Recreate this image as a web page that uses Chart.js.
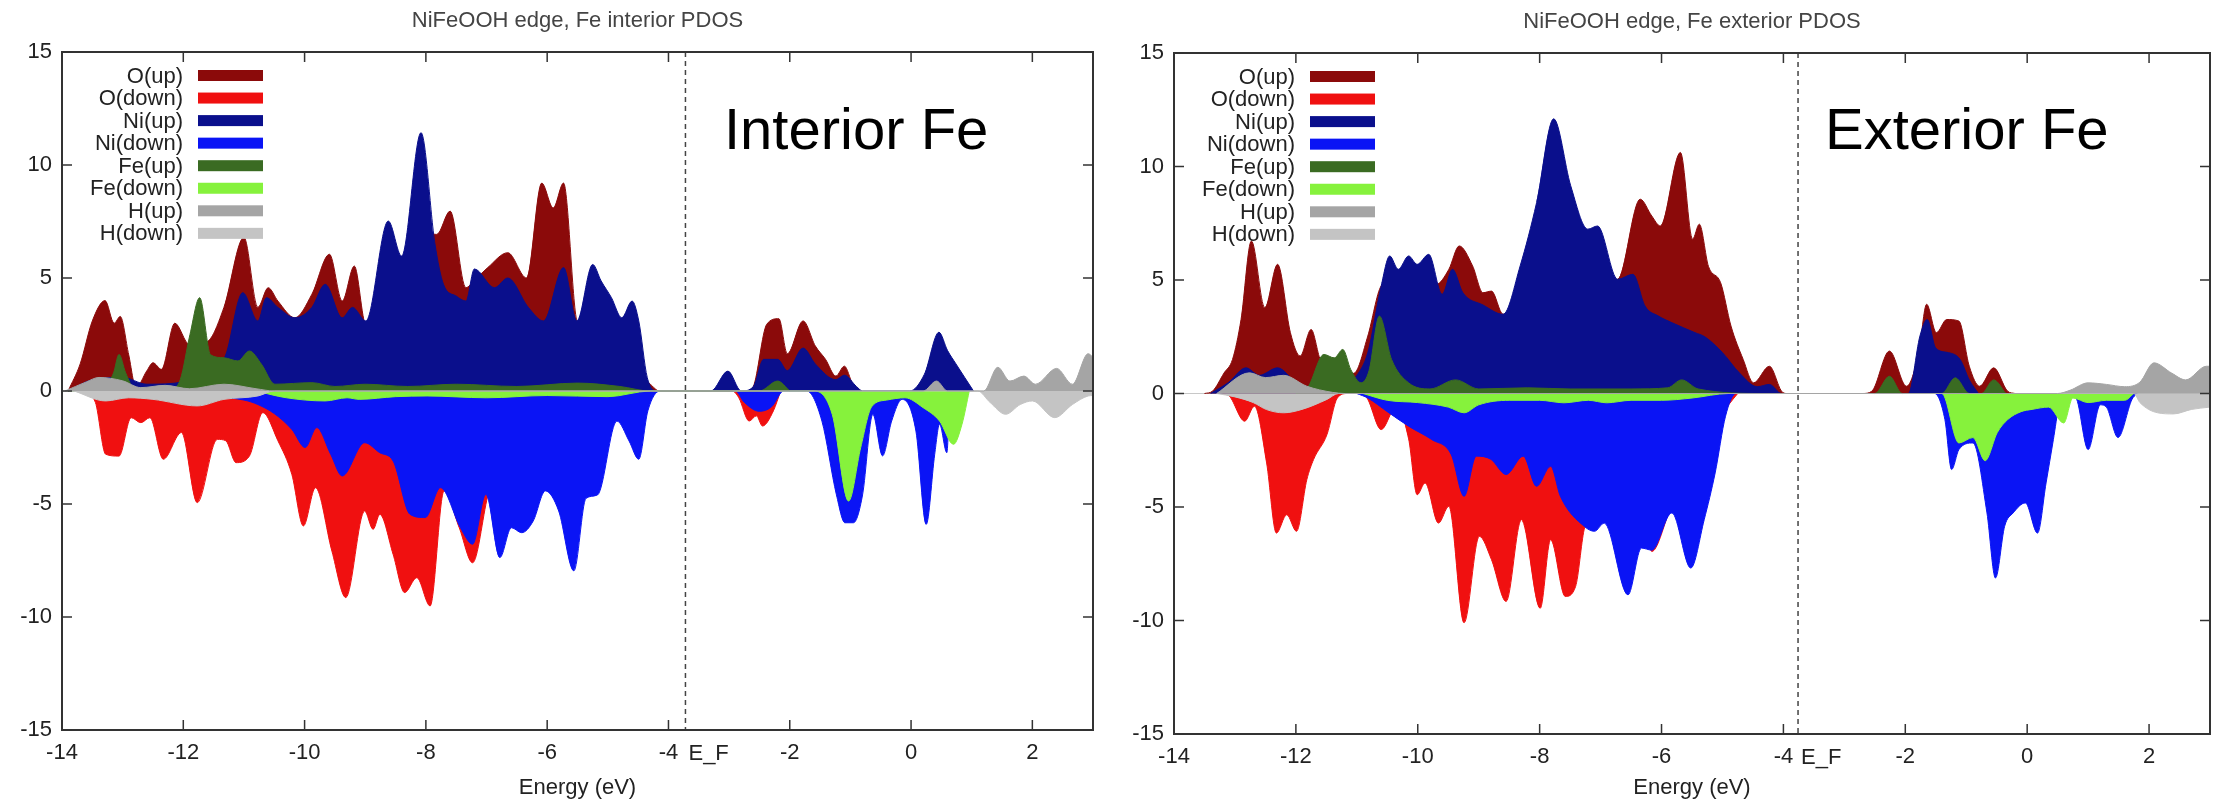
<!DOCTYPE html>
<html>
<head>
<meta charset="utf-8">
<script src="https://cdn.jsdelivr.net/npm/chart.js@4.4.0/dist/chart.umd.min.js"></script>
<style>
  html, body { margin: 0; padding: 0; background: #fff; }
  #wrap { display: flex; width: 2216px; height: 803px; }
  canvas { display: block; }
</style>
</head>
<body>
<div id="wrap">
  <canvas id="cInt" width="1108" height="803"></canvas>
  <canvas id="cExt" width="1108" height="803"></canvas>
</div>
<script>
// axis ticks
const xTicks = [-14, -12, -10, -8, -6, -4, -2, 0, 2];
const yTicks = [-15, -10, -5, 0, 5, 10, 15];

const seriesNames = ['O(up)', 'O(down)', 'Ni(up)', 'Ni(down)', 'Fe(up)', 'Fe(down)', 'H(up)', 'H(down)'];
const seriesColors = ['#8b0a0a', '#f01010', '#0a0f8c', '#0a14f5', '#3a6b22', '#86f23c', '#a5a5a5', '#c4c4c4'];
const drawOrder = [4, 4, 3, 3, 2, 2, 1, 1];

// Fermi level (dashed line), eV
const efInterior = -3.72;
const efExterior = -3.76;

// ---- interior Fe panel, [energy, PDOS] ----
const intOUp = [[-13.9,0],[-13.7,1.2],[-13.5,3.1],[-13.29,4.0],[-13.14,3.0],[-13.04,3.3],[-12.9,1.6],[-12.78,0.15],[-12.6,0.9],[-12.5,1.25],[-12.36,0.96],[-12.14,3.0],[-11.9,2.06],[-11.6,2.2],[-11.33,3.7],[-11.0,6.8],[-10.77,3.7],[-10.6,4.57],[-10.44,3.98],[-10.16,3.24],[-9.88,4.28],[-9.59,6.05],[-9.38,3.98],[-9.18,5.53],[-8.99,2.95],[-8.8,3.0],[-8.62,6.5],[-8.4,5.5],[-8.08,8.0],[-7.9,7.0],[-7.82,6.93],[-7.6,7.96],[-7.34,4.57],[-7.2,4.9],[-6.98,5.46],[-6.65,6.12],[-6.34,5.0],[-6.09,9.2],[-5.9,8.1],[-5.73,9.2],[-5.51,3.1],[-5.3,2.5],[-5.0,2.0],[-4.6,1.0],[-4.3,0.3],[-4.15,0],
  [-2.7,0],[-2.6,0.2],[-2.38,2.95],[-2.18,3.2],[-2.04,1.65],[-1.78,3.1],[-1.58,2.0],[-1.41,1.4],[-1.24,0.66],[-1.1,1.1],[-0.96,0.3],[-0.82,0]];
const intODown = [[-13.65,0],[-13.45,-0.5],[-13.28,-2.8],[-13.06,-2.88],[-12.86,-1.18],[-12.7,-1.4],[-12.55,-1.18],[-12.33,-3.02],[-12.03,-1.84],[-11.77,-4.94],[-11.44,-2.14],[-11.3,-2.2],[-11.13,-3.17],[-10.91,-2.88],[-10.69,-0.96],[-10.44,-2.2],[-10.21,-3.69],[-10.02,-5.97],[-9.82,-4.28],[-9.55,-7.08],[-9.32,-9.14],[-9.01,-5.31],[-8.87,-6.12],[-8.76,-5.46],[-8.54,-7.23],[-8.35,-8.92],[-8.15,-8.26],[-7.93,-9.51],[-7.7,-4.42],[-7.45,-6.05],[-7.23,-7.6],[-6.98,-4.65],[-6.8,-3.0],[-6.5,-2.5],[-6.0,-2.0],[-5.5,-1.5],[-5.0,-1.0],[-4.4,-0.3],[-4.2,0],
  [-2.95,0],[-2.84,-0.3],[-2.67,-1.33],[-2.55,-1.1],[-2.45,-1.55],[-2.27,-0.88],[-2.15,0]];
const intNiUp = [[-13.9,0],[-13.5,0.5],[-13.0,0.6],[-12.6,0.3],[-12.0,0.4],[-11.5,0.8],[-11.3,1.6],[-11.02,4.35],[-10.77,3.1],[-10.63,4.13],[-10.44,3.7],[-10.16,3.24],[-9.88,3.7],[-9.66,4.72],[-9.38,3.24],[-9.21,3.7],[-8.99,3.1],[-8.62,7.52],[-8.4,5.97],[-8.08,11.43],[-7.85,6.5],[-7.71,4.72],[-7.5,4.2],[-7.34,3.98],[-7.2,5.4],[-6.87,4.57],[-6.65,5.0],[-6.31,3.7],[-6.06,3.1],[-5.73,5.46],[-5.51,3.1],[-5.25,5.6],[-5.11,4.87],[-4.94,4.13],[-4.77,3.24],[-4.6,3.98],[-4.49,3.1],[-4.35,0.6],[-4.18,0],
  [-3.3,0],[-3.02,0.88],[-2.8,0],[-2.6,0.2],[-2.43,1.4],[-2.2,1.4],[-2.04,0.9],[-1.78,1.9],[-1.58,1.2],[-1.24,0.5],[-1.1,0.7],[-0.9,0.2],[-0.8,0],[-0.02,0],[0.22,0.74],[0.46,2.6],[0.6,1.8],[0.74,1.2],[1.03,0]];
const intNiDown = [[-13.6,0],[-12.0,-0.2],[-11.0,-0.4],[-10.77,-0.6],[-10.5,-1.0],[-10.21,-1.7],[-9.99,-2.5],[-9.8,-1.62],[-9.57,-2.8],[-9.38,-3.76],[-9.01,-2.29],[-8.76,-2.73],[-8.54,-3.1],[-8.26,-5.46],[-8.01,-5.6],[-7.76,-4.28],[-7.43,-6.05],[-7.23,-6.78],[-7.01,-4.57],[-6.78,-7.37],[-6.59,-6.05],[-6.42,-6.27],[-6.23,-5.75],[-6.03,-4.42],[-5.81,-5.31],[-5.56,-7.96],[-5.36,-4.75],[-5.17,-4.6],[-4.85,-1.33],[-4.65,-2.21],[-4.49,-3.02],[-4.34,-0.88],[-4.14,0],
  [-2.9,0],[-2.75,-0.5],[-2.5,-0.9],[-2.3,-0.7],[-2.1,0],[-1.72,0],[-1.47,-1.33],[-1.23,-4.6],[-1.09,-5.83],[-0.95,-5.83],[-0.8,-4.6],[-0.63,-1.03],[-0.47,-2.87],[-0.32,-1.33],[-0.15,-0.37],[0.08,-1.77],[0.25,-5.9],[0.39,-2.8],[0.47,-1.47],[0.59,-2.73],[0.64,0]];
const intFeUp = [[-13.9,0],[-13.3,0.2],[-13.15,0.8],[-13.06,1.62],[-12.95,0.8],[-12.8,0.1],[-12.2,0.1],[-12.05,0.5],[-11.89,2.5],[-11.73,4.13],[-11.55,1.6],[-11.33,1.47],[-11.1,1.33],[-10.91,1.77],[-10.71,1.18],[-10.49,0.3],[-9.88,0.37],[-9.5,0.2],[-9.0,0.3],[-8.3,0.2],[-7.5,0.3],[-6.5,0.2],[-5.5,0.35],[-4.8,0.2],[-4.3,0],
  [-2.5,0],[-2.2,0.44],[-2.0,0]];
const intFeDown = [[-10.8,0],[-10.3,-0.3],[-9.66,-0.44],[-9.3,-0.3],[-9.1,-0.37],[-8.5,-0.25],[-7.98,-0.22],[-7.0,-0.3],[-6.0,-0.2],[-5.0,-0.25],[-4.3,0],
  [-1.59,0],[-1.3,-1.03],[-1.03,-4.87],[-0.83,-2.5],[-0.65,-0.7],[-0.4,-0.4],[-0.1,-0.3],[0.2,-0.74],[0.47,-1.33],[0.7,-2.36],[0.84,-1.47],[0.96,0]];
const intHUp = [[-13.95,0],[-13.6,0.4],[-13.39,0.6],[-13.0,0.45],[-12.7,0.15],[-12.3,0.25],[-11.9,0.1],[-11.33,0.3],[-10.8,0.1],[-10.5,0],
  [0.2,0],[0.42,0.44],[0.6,0],[1.2,0],[1.43,1.05],[1.63,0.44],[1.86,0.66],[2.05,0.3],[2.4,1.0],[2.66,0.3],[2.92,1.65],[3.0,1.5]];
const intHDown = [[-13.8,0],[-13.28,-0.44],[-12.9,-0.3],[-12.5,-0.37],[-11.77,-0.66],[-11.33,-0.37],[-10.77,-0.22],[-10.5,0],
  [1.1,0],[1.3,-0.5],[1.56,-1.03],[1.8,-0.6],[2.0,-0.44],[2.37,-1.18],[2.66,-0.6],[2.92,-0.22],[3.0,-0.2]];

// ---- exterior Fe panel ----
const extOUp = [[-13.5,0],[-13.37,0.1],[-13.18,0.9],[-13.04,1.5],[-12.9,3.26],[-12.73,6.72],[-12.51,3.78],[-12.3,5.69],[-12.09,2.68],[-11.93,1.65],[-11.75,2.82],[-11.6,1.5],[-11.3,0.8],[-11.04,0.9],[-10.82,2.53],[-10.6,4.74],[-10.4,5.0],[-10.0,5.0],[-9.7,4.8],[-9.49,5.47],[-9.32,6.5],[-9.1,5.62],[-8.93,4.44],[-8.79,4.51],[-8.6,3.49],[-8.3,4.5],[-8.0,6.0],[-7.5,6.0],[-7.0,5.0],[-6.72,5.03],[-6.35,8.56],[-6.16,7.82],[-6.02,7.38],[-5.69,10.62],[-5.49,6.8],[-5.38,7.46],[-5.23,5.6],[-5.03,4.88],[-4.86,2.97],[-4.66,1.5],[-4.49,0.47],[-4.23,1.2],[-4.03,0.1],[-3.95,0],
  [-2.7,0],[-2.55,0.1],[-2.26,1.87],[-1.98,0.32],[-1.78,1.79],[-1.65,3.93],[-1.49,2.68],[-1.32,3.26],[-1.12,3.19],[-0.95,1.2],[-0.78,0.32],[-0.55,1.13],[-0.32,0.1],[-0.2,0]];
const extODown = [[-13.2,0],[-13.09,-0.12],[-12.84,-1.22],[-12.68,-0.56],[-12.48,-3.06],[-12.32,-6.15],[-12.15,-5.34],[-11.99,-6.07],[-11.82,-3.79],[-11.71,-2.91],[-11.49,-1.81],[-11.32,-0.2],[-11.15,0],[-10.9,0],[-10.82,-0.26],[-10.6,-1.59],[-10.35,-0.56],[-10.15,-2.0],[-10.01,-4.46],[-9.88,-3.94],[-9.66,-5.71],[-9.49,-4.97],[-9.24,-10.1],[-8.99,-6.29],[-8.79,-7.32],[-8.55,-9.16],[-8.3,-5.56],[-7.99,-9.46],[-7.82,-6.44],[-7.58,-8.94],[-7.41,-8.5],[-7.27,-6.0],[-7.0,-4.5],[-6.6,-4.0],[-6.3,-5.0],[-6.16,-6.96],[-5.88,-5.26],[-5.7,-4.0],[-5.3,-2.0],[-4.9,-0.5],[-4.75,0]];
const extNiUp = [[-13.4,0],[-13.1,0.5],[-12.82,1.13],[-12.6,0.8],[-12.3,1.13],[-12.0,0.5],[-11.8,0.3],[-11.2,0.3],[-11.0,0.8],[-10.82,1.8],[-10.6,4.74],[-10.46,6.06],[-10.32,5.47],[-10.15,6.06],[-10.01,5.69],[-9.82,6.13],[-9.6,4.37],[-9.43,5.47],[-9.26,4.44],[-8.93,3.9],[-8.6,3.49],[-8.32,5.62],[-8.05,8.41],[-7.77,12.1],[-7.49,9.15],[-7.21,7.24],[-7.05,7.38],[-6.72,5.03],[-6.47,5.25],[-6.27,3.85],[-6.05,3.41],[-5.83,3.12],[-5.45,2.68],[-5.29,2.5],[-5.0,1.8],[-4.72,0.9],[-4.43,0.3],[-4.23,0.4],[-4.03,0],
  [-1.95,0],[-1.76,2.53],[-1.64,3.26],[-1.5,2.0],[-1.29,1.8],[-1.1,1.5],[-0.95,0.6],[-0.8,0]];
const extNiDown = [[-11.0,0],[-10.82,-0.2],[-10.5,-0.8],[-10.15,-1.44],[-9.77,-2.03],[-9.45,-2.7],[-9.24,-4.53],[-9.04,-2.76],[-8.8,-2.9],[-8.55,-3.57],[-8.27,-2.76],[-8.05,-4.09],[-7.82,-3.21],[-7.66,-4.53],[-7.27,-5.85],[-7.1,-6.07],[-6.94,-5.71],[-6.55,-8.87],[-6.33,-6.81],[-6.16,-6.9],[-5.83,-5.26],[-5.52,-7.69],[-5.3,-5.56],[-5.12,-3.5],[-4.95,-1.0],[-4.78,0],
  [-1.52,0],[-1.35,-1.15],[-1.24,-3.35],[-1.12,-2.47],[-0.89,-2.18],[-0.66,-5.26],[-0.52,-8.13],[-0.37,-5.85],[-0.23,-5.26],[-0.03,-4.82],[0.17,-6.15],[0.31,-3.94],[0.43,-2.03],[0.52,-0.56],[0.6,0],[0.8,-0.2],[1.0,-2.47],[1.2,-0.5],[1.3,-0.6],[1.49,-1.94],[1.72,-0.26],[1.8,0]];
const extFeUp = [[-12.0,0],[-11.8,0.3],[-11.54,1.72],[-11.37,1.57],[-11.23,1.94],[-11.1,1.06],[-10.93,0.47],[-10.8,1.0],[-10.63,3.41],[-10.43,1.5],[-10.15,0.47],[-9.8,0.2],[-9.38,0.6],[-9.0,0.2],[-8.2,0.25],[-7.5,0.2],[-6.5,0.2],[-5.9,0.25],[-5.67,0.6],[-5.4,0.2],[-4.3,0],
  [-2.5,0],[-2.26,0.76],[-2.05,0],[-1.4,0],[-1.18,0.69],[-0.95,0],[-0.75,0],[-0.55,0.6],[-0.35,0]];
const extFeDown = [[-10.9,0],[-10.5,-0.3],[-10.0,-0.4],[-9.5,-0.6],[-9.24,-0.85],[-9.0,-0.5],[-8.5,-0.3],[-8.0,-0.3],[-7.6,-0.41],[-7.2,-0.3],[-6.9,-0.41],[-6.5,-0.3],[-6.0,-0.3],[-5.5,-0.2],[-4.9,0],
  [-1.4,0],[-1.12,-2.18],[-0.89,-1.94],[-0.69,-2.96],[-0.49,-1.72],[-0.32,-1.15],[-0.1,-0.8],[0.08,-0.7],[0.35,-0.6],[0.6,-1.3],[0.75,-0.2],[1.0,-0.4],[1.3,-0.3],[1.6,-0.3],[1.75,0]];
const extHUp = [[-13.3,0],[-12.76,0.91],[-12.5,0.7],[-12.2,0.8],[-11.82,0.32],[-11.4,0.05],[-11.2,0],
  [0.5,0],[0.71,0.15],[1.0,0.47],[1.3,0.4],[1.6,0.3],[1.85,0.5],[2.08,1.35],[2.37,0.9],[2.6,0.6],[2.94,1.2],[3.0,1.2]];
const extHDown = [[-13.3,0],[-13.0,-0.15],[-12.7,-0.4],[-12.48,-0.71],[-12.2,-0.85],[-11.9,-0.7],[-11.49,-0.26],[-11.3,0],
  [1.75,0],[1.85,-0.4],[2.14,-0.85],[2.4,-0.9],[2.7,-0.7],[3.0,-0.6]];

const FONT = '"Liberation Sans", Arial, Helvetica, sans-serif';
Chart.defaults.font.family = FONT;

// frame, inward ticks, Fermi line, title, legend and big label
const pdosDecor = {
  id: 'pdosDecor',
  beforeDatasetsDraw(chart) {
    const { ctx, chartArea: a, scales: { y } } = chart;
    const y0 = y.getPixelForValue(0);
    ctx.save();
    ctx.strokeStyle = '#c8c8c8';
    ctx.lineWidth = 1;
    ctx.beginPath();
    ctx.moveTo(a.left, y0);
    ctx.lineTo(a.right, y0);
    ctx.stroke();
    ctx.restore();
  },
  afterDatasetsDraw(chart, args, o) {
    const { ctx, chartArea: a, scales: { x, y } } = chart;
    ctx.save();

    const xf = x.getPixelForValue(o.ef);
    ctx.strokeStyle = '#444';
    ctx.lineWidth = 1.5;
    ctx.setLineDash([5, 4]);
    ctx.beginPath();
    ctx.moveTo(xf, a.top);
    ctx.lineTo(xf, a.bottom);
    ctx.stroke();
    ctx.setLineDash([]);

    ctx.strokeStyle = '#333';
    ctx.lineWidth = 2;
    ctx.strokeRect(a.left, a.top, a.right - a.left, a.bottom - a.top);
    ctx.lineWidth = 1.5;
    ctx.beginPath();
    xTicks.forEach(v => {
      const px = x.getPixelForValue(v);
      ctx.moveTo(px, a.bottom); ctx.lineTo(px, a.bottom - 10);
      ctx.moveTo(px, a.top); ctx.lineTo(px, a.top + 10);
    });
    yTicks.forEach(v => {
      const py = y.getPixelForValue(v);
      ctx.moveTo(a.left, py); ctx.lineTo(a.left + 10, py);
      ctx.moveTo(a.right, py); ctx.lineTo(a.right - 10, py);
    });
    ctx.stroke();

    // title centred over the plot box
    ctx.fillStyle = '#444';
    ctx.font = '22px ' + FONT;
    ctx.textAlign = 'center';
    ctx.textBaseline = 'middle';
    ctx.fillText(o.title, (a.left + a.right) / 2, a.top - 31);

    ctx.fillStyle = '#222';
    ctx.font = '22px ' + FONT;
    ctx.textAlign = 'left';
    ctx.fillText('E_F', xf + 3, a.bottom + 24);

    // gnuplot style key: label then colour bar
    seriesNames.forEach((n, i) => {
      const ry = a.top + 23.5 + i * 22.55;
      ctx.fillStyle = '#222';
      ctx.textAlign = 'right';
      ctx.fillText(n, a.left + 121, ry + 1);
      ctx.fillStyle = seriesColors[i];
      ctx.fillRect(a.left + 136, ry - 5.5, 65, 11);
    });

    ctx.fillStyle = '#000';
    ctx.font = '58px ' + FONT;
    ctx.textAlign = 'left';
    ctx.textBaseline = 'alphabetic';
    ctx.fillText(o.label, o.labelX, o.labelY);
    ctx.restore();
  }
};

function makeSets(list) {
  return list.map((d, i) => ({
    label: seriesNames[i],
    data: d,
    backgroundColor: seriesColors[i],
    borderColor: seriesColors[i],
    borderWidth: 1,
    fill: 'origin',
    pointRadius: 0,
    cubicInterpolationMode: 'monotone',
    order: drawOrder[i]
  }));
}

function makeChart(id, p) {
  const tickFont = { size: 22, family: FONT };
  return new Chart(document.getElementById(id), {
    type: 'line',
    data: { datasets: makeSets(p.series) },
    plugins: [pdosDecor],
    options: {
      responsive: false,
      animation: false,
      events: [],
      layout: { padding: { left: 0, right: p.padRight, top: p.top, bottom: 0 } },
      plugins: {
        legend: { display: false },
        tooltip: { enabled: false },
        title: { display: false },
        pdosDecor: { ef: p.ef, title: p.title, label: p.label, labelX: p.labelX, labelY: p.labelY }
      },
      scales: {
        x: {
          type: 'linear',
          min: -14,
          max: 3,
          afterBuildTicks: s => { s.ticks = xTicks.map(v => ({ value: v })); },
          afterFit: s => { s.height = 803 - p.bottom; },
          grid: { display: false, drawTicks: false },
          border: { display: false },
          ticks: { font: tickFont, color: '#222', padding: 10, maxRotation: 0, autoSkip: false },
          title: { display: true, text: 'Energy (eV)', font: tickFont, color: '#222', padding: { top: 0, bottom: 2 } }
        },
        y: {
          type: 'linear',
          min: -15,
          max: 15,
          afterBuildTicks: s => { s.ticks = yTicks.map(v => ({ value: v })); },
          afterFit: s => { s.width = p.left; },
          grid: { display: false, drawTicks: false },
          border: { display: false },
          ticks: { font: tickFont, color: '#222', padding: 10 }
        }
      }
    }
  });
}

makeChart('cInt', {
  title: 'NiFeOOH edge, Fe interior PDOS',
  label: 'Interior Fe', labelX: 724, labelY: 149,
  ef: efInterior,
  left: 62, padRight: 15, top: 52, bottom: 730,
  series: [intOUp, intODown, intNiUp, intNiDown, intFeUp, intFeDown, intHUp, intHDown]
});

makeChart('cExt', {
  title: 'NiFeOOH edge, Fe exterior PDOS',
  label: 'Exterior Fe', labelX: 717, labelY: 149,
  ef: efExterior,
  left: 66, padRight: 6, top: 53, bottom: 734,
  series: [extOUp, extODown, extNiUp, extNiDown, extFeUp, extFeDown, extHUp, extHDown]
});
</script>
</body>
</html>
